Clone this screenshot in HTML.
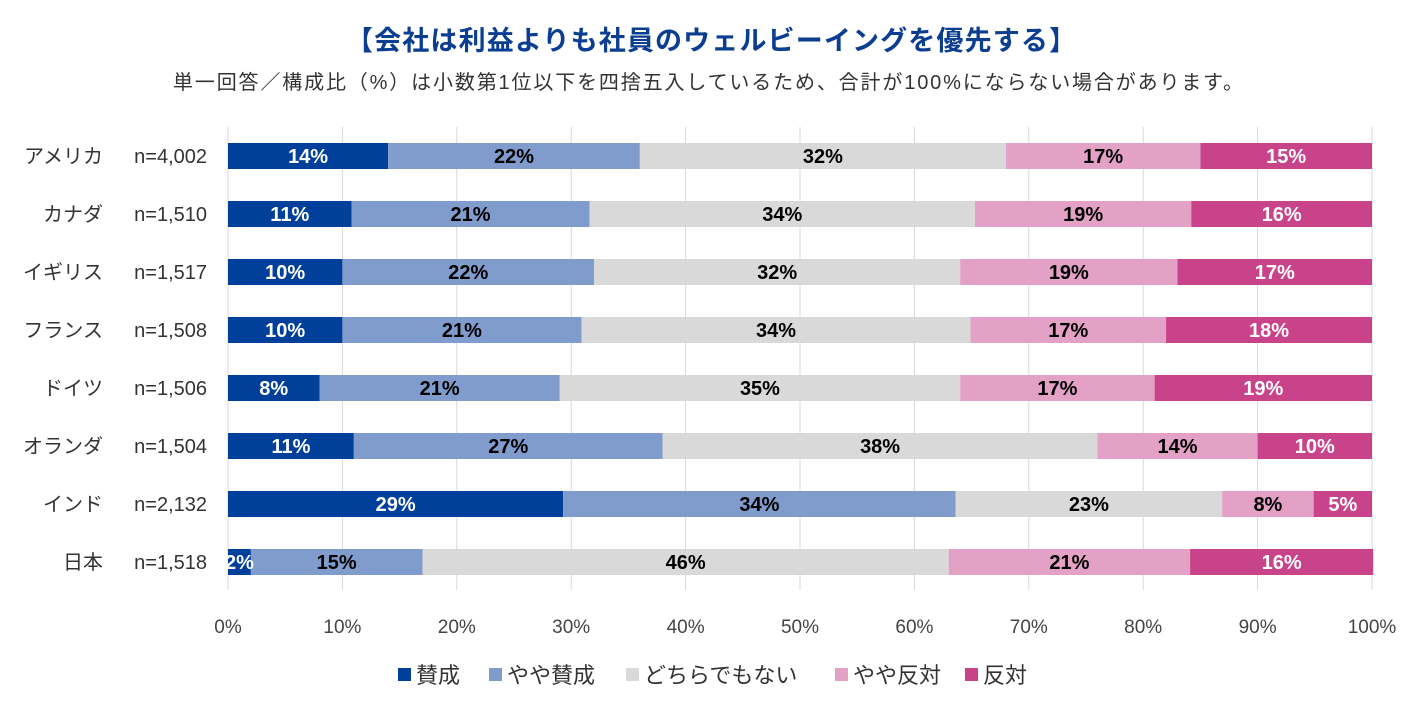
<!DOCTYPE html>
<html><head><meta charset="utf-8"><style>
body{margin:0;background:#fff;font-family:"Liberation Sans","Noto Sans CJK JP",sans-serif;}
svg text{font-family:"Liberation Sans","Noto Sans CJK JP",sans-serif;}
</style></head><body>
<svg id="chart" width="1422" height="710">
<text x="711" y="50" text-anchor="middle" font-size="27" font-weight="bold" fill="#0b3d91" textLength="730">【会社は利益よりも社員のウェルビーイングを優先する】</text>
<text x="708" y="89" text-anchor="middle" font-size="20" fill="#333" textLength="1070">単一回答／構成比（%）は小数第1位以下を四捨五入しているため、合計が100%にならない場合があります。</text>
<g id="grid"></g><g id="bars"></g><g id="labels"></g><g id="legend"></g>
</svg>
<script>
const countries=["アメリカ","カナダ","イギリス","フランス","ドイツ","オランダ","インド","日本"];
const sampleSizes=["n=4,002","n=1,510","n=1,517","n=1,508","n=1,506","n=1,504","n=2,132","n=1,518"];
const seriesNames=["賛成","やや賛成","どちらでもない","やや反対","反対"];
const agree=[14,10.8,10,10,8,11,29.3,2];
const somewhatAgree=[22,20.8,22,20.9,21,27,34.3,15];
const neutral=[32,33.7,32,34,35,38,23.3,46];
const somewhatDisagree=[17,18.9,19,17.1,17,14,8,21.1];
const disagree=[15,15.8,17,18,19,10,5.1,16];
const xTicks=[0,10,20,30,40,50,60,70,80,90,100];
const colors=["#003f9a","#7f9ccc","#d9d9d9","#e3a1c6","#c9438a"];
const textColors=["#fff","#000","#000","#000","#fff"];
const NS="http://www.w3.org/2000/svg";
const x0=228,x1=1372,yTop=127,yBot=590,rowH=58,barH=26,firstC=156;
const xs=v=>x0+(x1-x0)*v/100;
const yc=i=>firstC+i*rowH;
function mk(tag,attrs,parent){const e=document.createElementNS(NS,tag);for(const k in attrs)e.setAttribute(k,attrs[k]);parent.appendChild(e);return e;}
const grid=document.getElementById('grid'),bars=document.getElementById('bars'),labels=document.getElementById('labels'),legend=document.getElementById('legend');
xTicks.forEach(t=>{
 const l=mk('line',{x1:xs(t),x2:xs(t),y1:yTop,y2:yBot,stroke:'#d9d9d9','stroke-width':1},grid);
 
 
 const tx=mk('text',{x:xs(t),y:633,'text-anchor':'middle','font-size':19,fill:'#444'},grid);
 tx.textContent=t+'%';
 
 
});
const series=[agree,somewhatAgree,neutral,somewhatDisagree,disagree];
countries.forEach((c,i)=>{
 const y=yc(i);
 const cl=mk('text',{x:103,y:y+7,'text-anchor':'end','font-size':20,fill:'#333'},labels);
 cl.textContent=c;
 
 
 const nl=mk('text',{x:207,y:y+7,'text-anchor':'end','font-size':20,fill:'#333'},labels);
 nl.textContent=sampleSizes[i];
 
 
 let cum=0;
 series.forEach((s,j)=>{
  const v=s[i];
  const r=mk('rect',{x:xs(cum),y:y-barH/2,width:xs(cum+v)-xs(cum),height:barH,fill:colors[j]},bars);
  
  
  const t=mk('text',{x:(xs(cum)+xs(cum+v))/2,y:y+7,'text-anchor':'middle','font-size':20,'font-weight':'bold',fill:textColors[j]},labels);
  t.textContent=Math.round(v)+'%';
  
  
  cum+=v;
 });
});
const legX=[398,489,626,835,965];
seriesNames.forEach((n,j)=>{
 const r=mk('rect',{x:legX[j],y:668,width:13,height:13,fill:colors[j]},legend);
 
 
 const t=mk('text',{x:legX[j]+18,y:683,'font-size':22,fill:'#333'},legend);
 t.textContent=n;
 
 
});
</script>
</body></html>
